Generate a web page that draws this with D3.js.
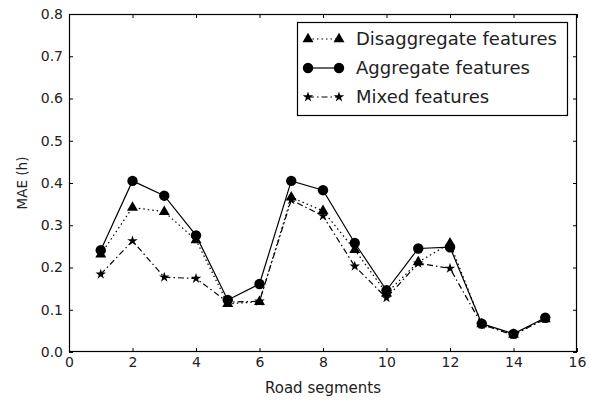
<!DOCTYPE html>
<html>
<head>
<meta charset="utf-8">
<script src="https://cdn.jsdelivr.net/npm/d3@7"></script>
<style>
  html, body { margin: 0; padding: 0; background: #fff; }
  svg { display: block; font-family: "DejaVu Sans", sans-serif; }
</style>
</head>
<body>
<svg id="chart" width="589" height="400"></svg>
<script>
// Road segment indices
const segments = [1, 2, 3, 4, 5, 6, 7, 8, 9, 10, 11, 12, 13, 14, 15];
// Mean absolute error (hours) per feature set
const disaggregate = [0.231, 0.342, 0.332, 0.265, 0.114, 0.119, 0.366, 0.334, 0.242, 0.139, 0.213, 0.257, 0.066, 0.041, 0.078];
const aggregate    = [0.241, 0.405, 0.370, 0.276, 0.123, 0.161, 0.405, 0.383, 0.258, 0.146, 0.245, 0.248, 0.067, 0.043, 0.081];
const mixed        = [0.184, 0.263, 0.177, 0.174, 0.118, 0.120, 0.360, 0.322, 0.203, 0.128, 0.210, 0.198, 0.065, 0.040, 0.079];
const seriesNames  = ["Disaggregate features", "Aggregate features", "Mixed features"];
const xTicks = [0, 2, 4, 6, 8, 10, 12, 14, 16];
const yTicks = [0.0, 0.1, 0.2, 0.3, 0.4, 0.5, 0.6, 0.7, 0.8];

const svg = d3.select("#chart");
const plotL = 69, plotR = 577, plotT = 14, plotB = 352;

const x = d3.scaleLinear().domain([0, 16]).range([plotL, plotR]);
const y = d3.scaleLinear().domain([0, 0.8]).range([plotB, plotT]);

const styles = [
  { values: disaggregate, dash: "1.5,3", symbol: d3.symbolTriangle, size: 52 },
  { values: aggregate,    dash: null,    symbol: d3.symbolCircle,   size: 85 },
  { values: mixed,        dash: "6,3,1.5,3", symbol: d3.symbolStar, size: 34 }
];

// Axes with inward ticks on all four sides
const tickLen = 4;
const axB = d3.axisBottom(x).tickValues(xTicks).tickFormat(d3.format("d")).tickSizeInner(-tickLen).tickSizeOuter(0).tickPadding(5);
const axT = d3.axisTop(x).tickValues(xTicks).tickFormat("").tickSizeInner(-tickLen).tickSizeOuter(0);
const axL = d3.axisLeft(y).tickValues(yTicks).tickFormat(d3.format(".1f")).tickSizeInner(-tickLen).tickSizeOuter(0).tickPadding(6);
const axR = d3.axisRight(y).tickValues(yTicks).tickFormat("").tickSizeInner(-tickLen).tickSizeOuter(0);

function styleAxis(g) {
  g.select(".domain").remove();
  g.selectAll(".tick line").attr("stroke", "#000").attr("stroke-width", 1);
  g.selectAll(".tick text").attr("fill", "#222").style("font-size", "14px").style("font-family", "DejaVu Sans, sans-serif");
}
svg.append("g").attr("transform", `translate(0,${plotB})`).call(axB).call(styleAxis);
svg.append("g").attr("transform", `translate(0,${plotT})`).call(axT).call(styleAxis);
svg.append("g").attr("transform", `translate(${plotL},0)`).call(axL).call(styleAxis);
svg.append("g").attr("transform", `translate(${plotR},0)`).call(axR).call(styleAxis);

// Series
const line = d3.line().x((d, i) => x(segments[i])).y(d => y(d));
styles.forEach(s => {
  const g = svg.append("g");
  g.append("path")
    .attr("d", line(s.values))
    .attr("fill", "none")
    .attr("stroke", "#000")
    .attr("stroke-width", 1.2)
    .attr("stroke-dasharray", s.dash);
  g.selectAll("path.mark")
    .data(s.values)
    .join("path")
    .attr("class", "mark")
    .attr("transform", (d, i) => `translate(${x(segments[i])},${y(d)})`)
    .attr("d", d3.symbol().type(s.symbol).size(s.size))
    .attr("fill", "#000");
});

// Frame
svg.append("rect")
  .attr("x", plotL + 0.5).attr("y", plotT + 0.5)
  .attr("width", plotR - plotL - 1).attr("height", plotB - plotT - 1)
  .attr("fill", "none").attr("stroke", "#000").attr("stroke-width", 1.2);

// Axis titles
svg.append("text")
  .attr("x", (plotL + plotR) / 2).attr("y", 393)
  .attr("text-anchor", "middle")
  .style("font-size", "15px").attr("fill", "#222")
  .text("Road segments");
svg.append("text")
  .attr("transform", `translate(27,${(plotT + plotB) / 2}) rotate(-90)`)
  .attr("text-anchor", "middle")
  .style("font-size", "13.5px").attr("fill", "#222")
  .text("MAE (h)");

// Legend
const legend = svg.append("g");
legend.append("rect")
  .attr("x", 297.5).attr("y", 22.5).attr("width", 270).attr("height", 93)
  .attr("fill", "#fff").attr("stroke", "#000").attr("stroke-width", 1.2);
styles.forEach((s, i) => {
  const ly = 39 + i * 29;
  legend.append("line")
    .attr("x1", 308).attr("x2", 339).attr("y1", ly).attr("y2", ly)
    .attr("stroke", "#000").attr("stroke-width", 1.2)
    .attr("stroke-dasharray", s.dash);
  [308, 339].forEach(lx => {
    legend.append("path")
      .attr("transform", `translate(${lx},${ly})`)
      .attr("d", d3.symbol().type(s.symbol).size(s.size))
      .attr("fill", "#000");
  });
  legend.append("text")
    .attr("x", 356).attr("y", ly).attr("dy", "0.36em")
    .style("font-size", "18px").attr("fill", "#222")
    .text(seriesNames[i]);
});
</script>
</body>
</html>
